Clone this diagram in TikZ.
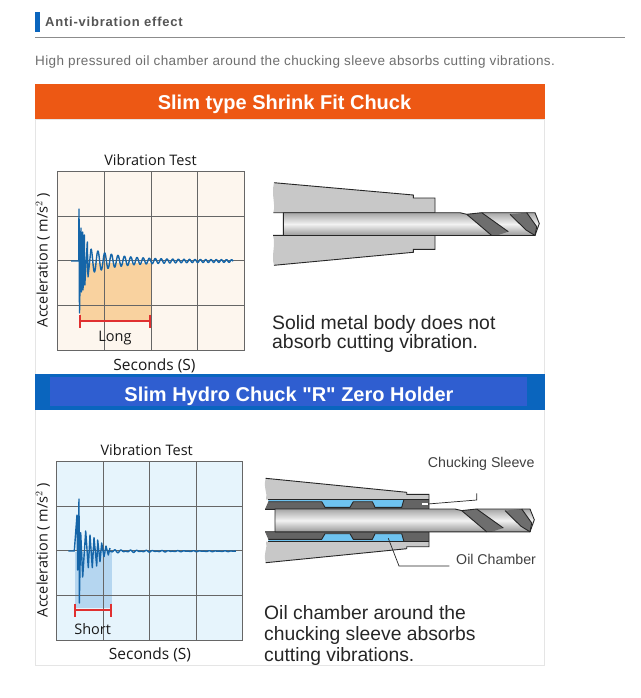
\documentclass[tikz,border=0pt]{standalone}
\usepackage{xcolor}
\usepackage{fontspec}
\setmainfont{Liberation Sans}
\newfontfamily\chartfont{Open Sans}
\newfontfamily\barfont{Liberation Sans}
\definecolor{headgray}{RGB}{85, 85, 85}
\definecolor{bodygray}{RGB}{110, 110, 110}
\definecolor{orangebar}{RGB}{237, 88, 20}
\definecolor{bluebar}{RGB}{10, 101, 190}
\definecolor{blueinner}{RGB}{47, 94, 208}
\definecolor{chartcream}{RGB}{253, 246, 238}
\definecolor{chartice}{RGB}{230, 244, 252}
\definecolor{fillorange}{RGB}{249, 210, 159}
\definecolor{fillblue}{RGB}{181, 214, 240}
\definecolor{signalblue}{RGB}{21, 101, 168}
\definecolor{holdergray}{RGB}{200, 200, 200}
\definecolor{sleevegray}{RGB}{100, 100, 100}
\definecolor{oilblue}{RGB}{110, 195, 240}
\definecolor{flutegray}{RGB}{110, 110, 110}
\definecolor{spanred}{RGB}{224, 48, 48}
\usetikzlibrary{positioning, calc}
\tikzset{
    barlabel/.style={text=white, font=\barfont\fontsize{20}{20}\selectfont\bfseries, inner sep=0pt},
    chartlabel/.style={font=\chartfont\fontsize{14.5}{15}\selectfont, text=black!90, inner sep=0pt},
    notetext/.style={font=\fontsize{19.4}{19.5}\selectfont, text=black!85, align=left, inner sep=0pt},
    partlabel/.style={font=\fontsize{14.2}{14}\selectfont, text=black!75, inner sep=0pt},
    chartgrid/.style={draw=black!60, line width=0.8pt},
    signal/.style={draw=signalblue, line width=1.4pt, line join=round},
    redspan/.style={draw=spanred, line width=1.8pt},
    leader/.style={draw=black!85, line width=0.7pt},
    outline/.style={draw=black!85, line width=0.9pt},
}
% chart frame with grid: left, right, top, bottom, then three x and three y grid lines
\newcommand{\chartframe}[6]{
    \fill[#6] (#1,#3) rectangle (#2,#4);
    \draw[chartgrid] (#1,#3) rectangle (#2,#4);
    \foreach \gx in {#5} {\draw[chartgrid] (\gx,#3) -- (\gx,#4);}
}
% drill with its shank; #1 = left end of the shank
\newcommand{\drillbit}[1]{
    \path[top color=black!35, bottom color=black!40, middle color=black!5, shading angle=0]
        (#1,212.7) -- (460,212.7) -- (466.7,214.3) -- (481.7,212.7) -- (526.7,212.7) -- (535,212.7)
        -- (539.3,223.5) -- (535,235.5) -- (#1,235.5) -- cycle;
    \fill[flutegray] (466.7,214.3) -- (481.7,212.7) -- (508.3,231.7) -- (496.7,235.5) -- (491.7,235.5) -- cycle;
    \fill[flutegray] (510,214.3) -- (526.7,212.7) -- (536.7,226.7) -- (535,235.5) -- (526,230) -- cycle;
    \draw[outline] (#1,235.5) -- (#1,212.7) -- (460,212.7) -- (466.7,214.3) -- (481.7,212.7) -- (535,212.7)
        -- (539.3,223.5) -- (535,235.5) -- (#1,235.5);
    \draw[outline] (466.7,214.3) -- (491.7,235.5);
    \draw[outline] (481.7,212.7) -- (508.3,231.7);
    \draw[outline] (510,214.3) -- (526,230) -- (535,235.5);
    \draw[outline] (526.7,212.7) -- (536.7,226.7) -- (535,235.5);
}
% upper half of the hydro holder, the lower half is its mirror image
\newcommand{\hydrohalf}{
    \fill[holdergray] (265.7,478.3) -- (406.7,492.3) -- (406.7,494.3) -- (429,494.3) -- (429,499.5)
        -- (266,499.5) .. controls (268,493) and (263,488) .. (265.7,478.3) -- cycle;
    \fill[oilblue] (268.3,499.3) -- (404,499.3) -- (401.7,507.3) -- (375,507.3) -- (372.3,501.7)
        -- (353.3,501.7) -- (350,507.3) -- (325,507.3) -- (321.7,501.7) -- (268.3,501.7) -- cycle;
    \fill[sleevegray] (265,509.3) -- (268.3,501.7) -- (321.7,501.7) -- (325,507.3) -- (350,507.3)
        -- (353.3,501.7) -- (372.3,501.7) -- (375,507.3) -- (401.7,507.3) -- (404,499.3) -- (429,499.3)
        -- (429,509.3) -- cycle;
    \draw[outline] (265.7,478.3) -- (406.7,492.3) -- (406.7,494.3) -- (429,494.3) -- (429,509.3) -- (265,509.3);
    \draw[outline] (268.3,499.3) -- (429,499.3);
    \draw[outline] (268.3,501.7) -- (321.7,501.7) -- (325,507.3) -- (350,507.3) -- (353.3,501.7)
        -- (372.3,501.7) -- (375,507.3) -- (401.7,507.3) -- (404,499.3);
}
\begin{document}
\begin{tikzpicture}[x=1pt, y=-1pt]
    \useasboundingbox (0,0) rectangle (640,698);
    \fill[white] (0,0) rectangle (640,698);

    % page heading
    \fill[bluebar] (35,12) rectangle (40,32);
    \node[anchor=west, inner sep=0pt, text=headgray, font=\fontsize{13}{13}\selectfont\bfseries\addfontfeature{LetterSpace=6}] (heading) at (45,21.5) {Anti-vibration effect};
    \draw[black!45, line width=0.8pt] (35,37.5) -- (625,37.5);
    \node[anchor=west, inner sep=0pt, text=bodygray, font=\fontsize{13.5}{14}\selectfont\addfontfeature{LetterSpace=2.75}] (intro) at (35,62.5) {High pressured oil chamber around the chucking sleeve absorbs cutting vibrations.};

    % panel and title bars
    \draw[black!10, line width=0.8pt] (35.5,119) rectangle (544.5,665.5);
    \fill[orangebar] (35,84) rectangle (545,119.5);
    \node[barlabel] (shrinktitle) at (284.5,104) {Slim type Shrink Fit Chuck};
    \fill[bluebar] (35,374) rectangle (545,410);
    \fill[blueinner] (50,377) rectangle (527,406);
    \node[barlabel] (hydrotitle) at (289,396) {Slim Hydro Chuck "R" Zero Holder};

    % upper chart
    \chartframe{57.7}{244}{171}{350.7}{104,151,197.7}{chartcream}
    \fill[fillorange] (80,263) -- (151,263) -- (151,322) -- (80,322) -- cycle;
    \foreach \gy in {216,260.7,305} {\draw[chartgrid] (57.7,\gy) -- (244,\gy);}
    \draw[chartgrid] (104,171) -- (104,350.7);
    \draw[chartgrid] (151,171) -- (151,350.7);
    \draw[signal] (71,261) -- (78.7,261) -- (79,209) -- (79.5,313) -- (81,228) -- (81.5,292) -- (82.7,232) -- (83,290)
        -- (84.3,235) -- (84.8,285) -- (87.3,242) -- (88,277) -- (91,249);
    \draw[signal] plot[domain=91:233, samples=500, smooth] (\x, {261 - (1.2 + 11*exp(-(\x-91)/30))*cos(360*((\x-91)/7 + 0.0002*(\x-91)*(\x-91)))});
    \coordinate (longa) at (80,321);
    \coordinate (longb) at (150,321);
    \draw[redspan] (longa) -- (longb);
    \draw[redspan] ($(longa)+(0,-6.5)$) -- ($(longa)+(0,6.5)$);
    \draw[redspan] ($(longb)+(0,-6.5)$) -- ($(longb)+(0,6.5)$);
    \node[chartlabel] (longlabel) at (115,338) {Long};
    \node[chartlabel] (vibtesta) at (150.5,160) {Vibration Test};
    \node[chartlabel, font=\chartfont\fontsize{15.5}{16}\selectfont] (secondsa) at (154.5,365.5) {Seconds (S)};
    \node[chartlabel, rotate=90] (accela) at (43,260) {Acceleration ( m/s$^2$ )};

    % solid chuck
    \fill[holdergray] (274,182.7) -- (413.3,195) -- (413.3,198) -- (435,198) -- (435,212.7) -- (273.3,212.7)
        .. controls (276,205) and (271,195) .. (274,182.7) -- cycle;
    \fill[holdergray] (273,235.3) -- (435,235.3) -- (435,249.3) -- (413.3,249.3) -- (413.3,252.3) -- (274,265.3)
        .. controls (271,255) and (276,245) .. (273,235.3) -- cycle;
    \draw[outline] (274,182.7) -- (413.3,195) -- (413.3,198) -- (435,198) -- (435,212.7) -- (273.3,212.7);
    \draw[outline] (273,235.3) -- (435,235.3) -- (435,249.3) -- (413.3,249.3) -- (413.3,252.3) -- (274,265.3);
    \drillbit{283.3}
    \node[notetext, anchor=north west] (solidnote) at (272,315) {Solid metal body does not\\absorb cutting vibration.};

    % lower chart
    \chartframe{56.7}{242.3}{461}{640}{103.3,149.7,196.3}{chartice}
    \fill[fillblue] (75,552) -- (111.7,552) -- (111.7,608) -- (75,608) -- cycle;
    \foreach \gy in {506,550.7,595.3} {\draw[chartgrid] (56.7,\gy) -- (242.3,\gy);}
    \draw[chartgrid] (103.3,461) -- (103.3,640);
    \draw[signal] (68.3,551) -- (74.3,551) -- (77,515) -- (77.7,570) -- (79,499) -- (79.3,603) -- (80.7,532.7) -- (82.7,577)
        -- (85.7,531) -- (88.3,567.7) -- (90,535) -- (92.3,567.7) -- (94,537.7) -- (96.7,566) -- (97.7,540) -- (100,561.7)
        -- (101.7,543) -- (104,556.7) -- (106,546) -- (108.3,555) -- (110,548);
    \draw[signal] plot[domain=110:236, samples=300, smooth] (\x, {551 + 0.2 + (0.3 + 1.5*exp(-(\x-110)/45))*sin(57.14*(\x-110))*sin(11.61*(\x-110))});
    \coordinate (shorta) at (75.3,610);
    \coordinate (shortb) at (111,610);
    \draw[redspan] (shorta) -- (shortb);
    \draw[redspan] ($(shorta)+(0,-6.5)$) -- ($(shorta)+(0,6.5)$);
    \draw[redspan] ($(shortb)+(0,-6.5)$) -- ($(shortb)+(0,6.5)$);
    \node[chartlabel] (shortlabel) at (92.7,629) {Short};
    \node[chartlabel] (vibtestb) at (146.7,450) {Vibration Test};
    \node[chartlabel, font=\chartfont\fontsize{15.5}{16}\selectfont] (secondsb) at (150,654.5) {Seconds (S)};
    \node[chartlabel, rotate=90] (accelb) at (43,550) {Acceleration ( m/s$^2$ )};

    % hydro chuck
    \hydrohalf
    \begin{scope}[shift={(0,1041)}, yscale=-1]
        \hydrohalf
    \end{scope}
    \begin{scope}[shift={(-5,296.3)}]
        \drillbit{280}
    \end{scope}
    \fill[white] (421.7,503) rectangle (428,505);

    \node[partlabel, anchor=west] (sleevelabel) at (427.7,464) {Chucking Sleeve};
    \node[partlabel, anchor=west] (oillabel) at (456,559) {Oil Chamber};
    \coordinate (sleevetip) at (428,504);
    \coordinate (sleevebend) at (476.7,500);
    \coordinate (sleeveend) at (476.7,493.3);
    \coordinate (oiltip) at (388.3,538.3);
    \coordinate (oilbend) at (399,566);
    \coordinate (oilend) at (449.3,566);
    \draw[leader] (sleevetip) -- (sleevebend) -- (sleeveend);
    \draw[leader] (oiltip) -- (oilbend) -- (oilend);
    \node[notetext, anchor=north west, font=\fontsize{19.3}{21}\selectfont] (hydronote) at (264,605) {Oil chamber around the\\chucking sleeve absorbs\\cutting vibrations.};
\end{tikzpicture}
\end{document}
